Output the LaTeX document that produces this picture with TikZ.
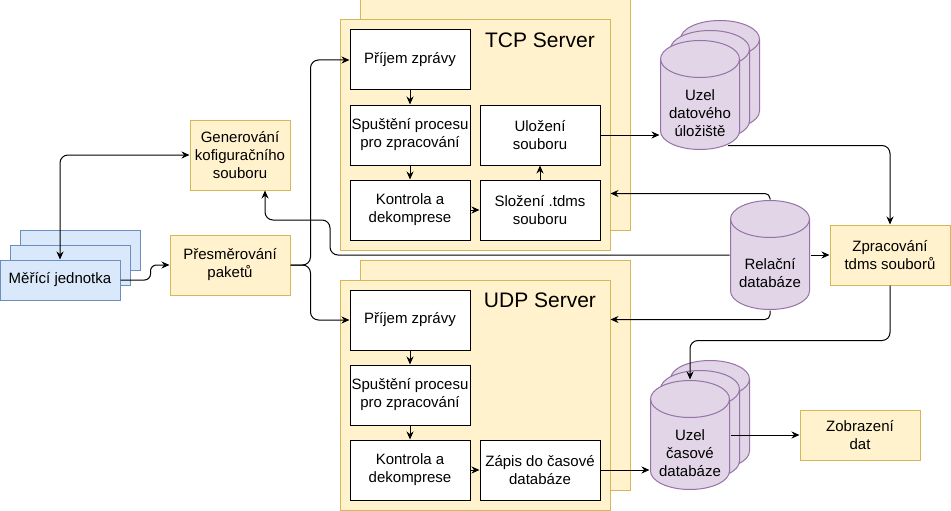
\documentclass[tikz,border=0pt]{standalone}
\usepackage{fontspec}
\setmainfont{Liberation Sans}
\usepackage{tikz}
\usetikzlibrary{shapes.geometric, arrows.meta, positioning, calc}
\definecolor{noteyellow}{HTML}{FFF2CC}
\definecolor{noteline}{HTML}{D6B656}
\definecolor{unitblue}{HTML}{DAE8FC}
\definecolor{unitline}{HTML}{6C8EBF}
\definecolor{dbpurple}{HTML}{E1D5E7}
\definecolor{dbline}{HTML}{9673A6}
\tikzstyle{procbox} = [
  rectangle, draw=black, fill=white,
  minimum width=120pt, minimum height=60pt,
  align=center, inner sep=1pt, font=\fontsize{15}{18}\selectfont
]
\tikzstyle{task} = [procbox, draw=noteline, fill=noteyellow]
\tikzstyle{server} = [
  rectangle, draw=noteline, fill=noteyellow,
  minimum width=270pt, minimum height=230pt
]
\tikzstyle{unit} = [procbox, draw=unitline, fill=unitblue, minimum height=40pt]
\tikzstyle{store} = [
  rectangle, minimum width=80pt, minimum height=110pt, inner sep=0pt,
  path picture={
    \path[draw=dbline, fill=dbpurple]
      ([xshift=0.5pt, yshift=-19pt]path picture bounding box.north west)
      -- ([xshift=0.5pt, yshift=19pt]path picture bounding box.south west)
      arc[start angle=180, end angle=360, x radius=39.5pt, y radius=18.5pt]
      -- ([xshift=-0.5pt, yshift=-19pt]path picture bounding box.north east)
      arc[start angle=0, end angle=180, x radius=39.5pt, y radius=18.5pt]
      -- cycle;
    \draw[dbline] ([xshift=0.5pt, yshift=-19pt]path picture bounding box.north west)
      arc[start angle=180, end angle=360, x radius=39.5pt, y radius=18.5pt];
  }
]
\tikzstyle{storetext} = [yshift=-18pt, align=center, font=\fontsize{15}{18}\selectfont]
\tikzstyle{title} = [font=\fontsize{21}{25}\selectfont]
\tikzstyle{arrow} = [-{Stealth[length=8pt, width=7pt]}, line width=1pt]
\tikzstyle{dblarrow} = [{Stealth[length=8pt, width=7pt]}-{Stealth[length=8pt, width=7pt]}, line width=1pt]

\begin{document}
\begin{tikzpicture}[x=1pt, y=-1pt, line width=1pt]
  \useasboundingbox (0,0) rectangle (951,511);

  \node[unit] (mericBack) at (80,250) {};
  \node[unit] (mericMid) at (70,265) {};
  \node[unit] (meric) at (60,280) {Měřící jednotka};

  \node[task, minimum width=100pt, minimum height=70pt] (gen) at (240,155) {Generování\\kofiguračního\\souboru};
  \node[task] (presm) at (230,265) {Přesměrování\\paketů};

  \node[server] (tcpBack) at (495,115) {};
  \node[server] (tcpFront) at (475,135) {};
  \node[title] (tcpTitle) at (540,40) {TCP Server};
  \node[procbox] (tcpIn) at (410,60) {Příjem zprávy};
  \node[procbox] (tcpRun) at (410,135) {Spuštění procesu\\pro zpracování};
  \node[procbox] (tcpChk) at (410,210) {Kontrola a\\dekomprese};
  \node[procbox] (tcpSave) at (540,135) {Uložení\\souboru};
  \node[procbox] (tcpCmp) at (540,210) {Složení .tdms\\souboru};

  \node[server] (udpBack) at (495,375) {};
  \node[server] (udpFront) at (475,395) {};
  \node[title] (udpTitle) at (540,300) {UDP Server};
  \node[procbox] (udpIn) at (410,320) {Příjem zprávy};
  \node[procbox] (udpRun) at (410,395) {Spuštění procesu\\pro zpracování};
  \node[procbox] (udpChk) at (410,470) {Kontrola a\\dekomprese};
  \node[procbox] (udpZap) at (540,470) {Zápis do časové\\databáze};

  \node[store] (dsBack) at (720,75) {};
  \node[store] (dsMid) at (710,85) {};
  \node[store, label={[storetext]center:{Uzel\\datového\\úložiště}}] (ds) at (700,95) {};
  \node[store, label={[storetext]center:{Relační\\databáze}}] (rel) at (770,255) {};
  \node[store] (tsBack) at (710,415) {};
  \node[store] (tsMid) at (700,425) {};
  \node[store, label={[storetext]center:{Uzel\\časové\\databáze}}] (ts) at (690,435) {};

  \node[task] (zprac) at (890,255) {Zpracování\\tdms souborů};
  \node[task, minimum height=50pt] (zobr) at (860,435) {Zobrazení\\dat};

  \draw[dblarrow, rounded corners=8pt] (meric.north) |- (gen.west);
  \draw[arrow, rounded corners=6pt] (meric.east) -- ++(30,0) |- (presm.west);
  \draw[arrow, rounded corners=8pt] (presm.east) -- ++(20,0) |- (tcpIn.west);
  \draw[arrow, rounded corners=8pt] (presm.east) -- ++(20,0) |- (udpIn.west);

  \draw[arrow] (tcpIn) -- (tcpRun);
  \draw[arrow] (tcpRun) -- (tcpChk);
  \draw[arrow] (tcpChk) -- (tcpCmp);
  \draw[arrow] (tcpCmp) -- (tcpSave);
  \draw[arrow] (tcpSave.east) -- (tcpSave.east -| ds.west);

  \draw[arrow] (udpIn) -- (udpRun);
  \draw[arrow] (udpRun) -- (udpChk);
  \draw[arrow] (udpChk) -- (udpZap);
  \draw[arrow] (udpZap.east) -- (udpZap.east -| ts.west);

  \draw[arrow, rounded corners=8pt] (rel.west) -- (330,255) -- (330,220) -| ([xshift=25pt]gen.south);
  \draw[arrow] (rel.east) -- (zprac.west);
  \draw[arrow, rounded corners=5pt] (rel.north) |- ($(tcpFront.south east)+(0,-57)$);
  \draw[arrow, rounded corners=5pt] (rel.south) |- ($(udpFront.north east)+(0,40)$);

  \draw[arrow, rounded corners=8pt] ($(ds.south)+(28,-5)$) -| (zprac.north);
  \draw[arrow, rounded corners=8pt] (zprac.south) -- ++(0,55) -| (ts.north);
  \draw[arrow] (ts.east) -- (zobr.west);

\end{tikzpicture}
\end{document}
